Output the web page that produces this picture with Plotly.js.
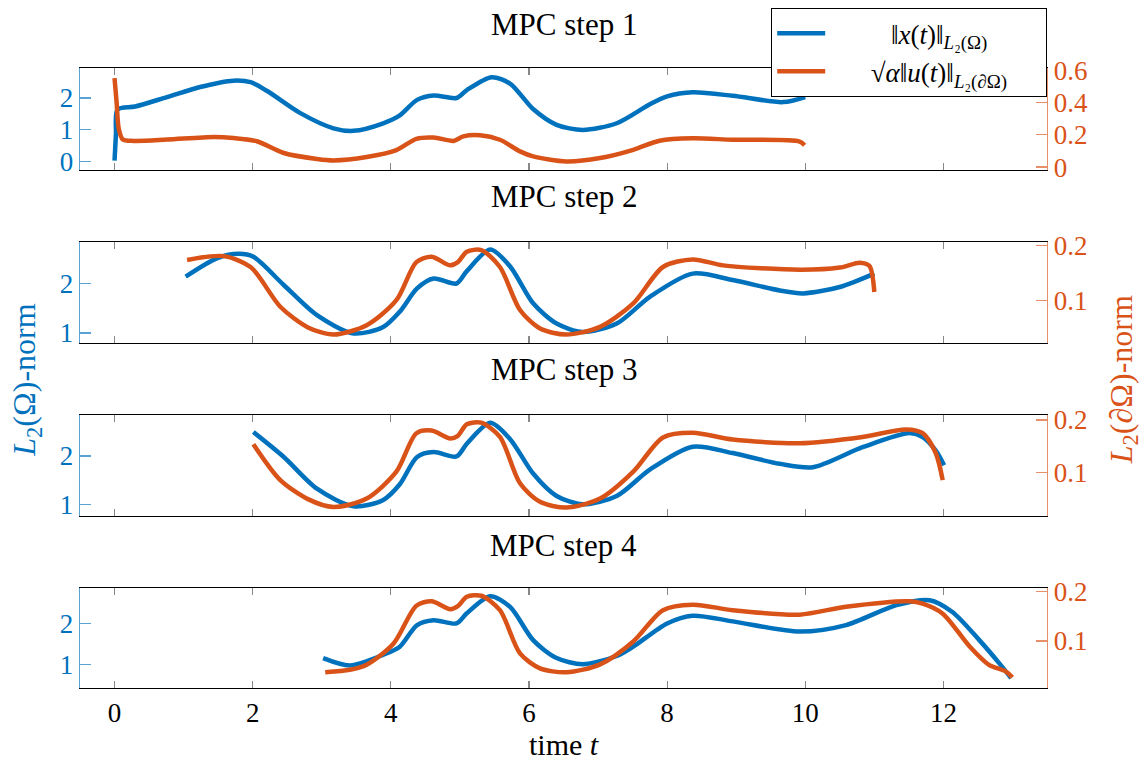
<!DOCTYPE html>
<html>
<head>
<meta charset="utf-8">
<script src="https://cdn.plot.ly/plotly-3.0.1.min.js"></script>
<style>
  html, body { margin: 0; padding: 0; background: #fff; }
  #chart { width: 1145px; height: 762px; }
</style>
</head>
<body>
<div id="chart"></div>
<script>
// MPC step 1: state norm and scaled control norm over t in [0, 10]
const t1x = [0, 0.02, 0.045, 0.3, 0.76, 1.24, 1.72, 1.97, 2.21, 2.69, 3.17, 3.46, 3.89, 4.13, 4.38, 4.62, 4.95, 5.1, 5.46, 5.73, 6.06, 6.4, 6.78, 7.27, 7.75, 8.0, 8.37, 8.95, 9.68, 10.0];
const x1  = [0.02, 0.85, 1.64, 1.73, 2.03, 2.35, 2.55, 2.5, 2.22, 1.52, 1.04, 0.96, 1.2, 1.45, 1.94, 2.08, 2.0, 2.25, 2.66, 2.45, 1.65, 1.15, 0.99, 1.2, 1.8, 2.05, 2.18, 2.07, 1.87, 2.03];
const t1u = [0, 0.03, 0.06, 0.12, 0.28, 0.76, 1.44, 1.72, 2.06, 2.45, 2.93, 3.17, 3.65, 4.08, 4.37, 4.62, 4.91, 5.05, 5.29, 5.58, 5.87, 6.06, 6.54, 7.03, 7.51, 7.89, 8.37, 8.95, 9.92, 9.99];
const u1  = [0.55, 0.4, 0.24, 0.17, 0.162, 0.17, 0.186, 0.18, 0.16, 0.087, 0.05, 0.041, 0.062, 0.105, 0.175, 0.183, 0.162, 0.19, 0.197, 0.169, 0.097, 0.066, 0.035, 0.056, 0.107, 0.163, 0.178, 0.169, 0.158, 0.135];

// MPC step 2: t in [1, 11]
const t2x = [1.03, 1.48, 1.8, 2.01, 2.45, 2.93, 3.46, 3.89, 4.13, 4.38, 4.62, 4.95, 5.1, 5.44, 5.73, 6.06, 6.4, 6.78, 7.27, 7.75, 8.37, 8.95, 9.63, 9.97, 10.5, 11.0];
const x2  = [2.14, 2.51, 2.6, 2.54, 1.97, 1.36, 0.99, 1.12, 1.43, 1.9, 2.1, 2.0, 2.25, 2.69, 2.34, 1.6, 1.19, 1.02, 1.19, 1.73, 2.2, 2.07, 1.86, 1.8, 1.93, 2.2];
const t2u = [1.05, 1.58, 1.97, 2.4, 2.8, 3.17, 3.65, 4.08, 4.37, 4.59, 4.86, 4.97, 5.1, 5.31, 5.58, 5.87, 6.16, 6.54, 7.03, 7.51, 7.94, 8.37, 8.81, 9.92, 10.5, 10.79, 10.93, 11.0];
const u2  = [0.174, 0.181, 0.161, 0.088, 0.05, 0.037, 0.054, 0.1, 0.17, 0.18, 0.164, 0.17, 0.189, 0.192, 0.161, 0.082, 0.048, 0.037, 0.051, 0.094, 0.161, 0.175, 0.164, 0.156, 0.16, 0.169, 0.163, 0.115];

// MPC step 3: t in [2, 12]
const t3x = [2.01, 2.45, 2.93, 3.46, 3.89, 4.13, 4.38, 4.62, 4.95, 5.1, 5.44, 5.73, 6.06, 6.4, 6.78, 7.27, 7.75, 8.37, 8.95, 9.63, 10.11, 10.83, 11.51, 11.7, 11.89, 12.01];
const x3  = [2.49, 1.98, 1.33, 0.97, 1.1, 1.42, 1.98, 2.08, 1.99, 2.25, 2.68, 2.34, 1.64, 1.18, 1.01, 1.18, 1.72, 2.19, 2.06, 1.84, 1.77, 2.18, 2.47, 2.39, 2.11, 1.81];
const t3u = [2.01, 2.4, 2.8, 3.17, 3.65, 4.08, 4.37, 4.59, 4.86, 4.97, 5.1, 5.31, 5.58, 5.87, 6.16, 6.54, 7.03, 7.51, 7.94, 8.37, 8.95, 9.92, 10.83, 11.46, 11.7, 11.89, 11.99];
const u3  = [0.154, 0.086, 0.05, 0.035, 0.051, 0.102, 0.175, 0.18, 0.165, 0.17, 0.192, 0.195, 0.168, 0.08, 0.045, 0.034, 0.051, 0.102, 0.167, 0.176, 0.163, 0.156, 0.168, 0.182, 0.175, 0.137, 0.086];

// MPC step 4: t in [3, 13]
const t4x = [3.02, 3.41, 3.89, 4.13, 4.38, 4.62, 4.95, 5.1, 5.44, 5.73, 6.06, 6.4, 6.78, 7.27, 7.51, 8.0, 8.37, 8.95, 9.92, 10.59, 11.32, 11.8, 12.13, 12.52, 12.81, 12.98];
const x4  = [1.15, 0.97, 1.23, 1.43, 1.96, 2.08, 2.0, 2.25, 2.67, 2.4, 1.59, 1.15, 1.0, 1.2, 1.43, 2.0, 2.19, 2.05, 1.8, 1.96, 2.45, 2.57, 2.28, 1.59, 1.02, 0.66];
const t4u = [3.05, 3.41, 3.65, 4.04, 4.37, 4.59, 4.86, 4.97, 5.1, 5.31, 5.58, 5.87, 6.16, 6.54, 7.03, 7.51, 7.94, 8.37, 8.95, 9.92, 10.59, 11.51, 11.7, 11.99, 12.38, 12.66, 12.9, 13.0];
const u4  = [0.037, 0.042, 0.052, 0.095, 0.171, 0.18, 0.164, 0.17, 0.189, 0.191, 0.162, 0.075, 0.045, 0.037, 0.053, 0.099, 0.162, 0.173, 0.162, 0.153, 0.169, 0.18, 0.175, 0.155, 0.089, 0.052, 0.039, 0.027];

// Axis ticks and panel titles
const xTicks = [0, 2, 4, 6, 8, 10, 12];
const leftTicks1 = [0, 1, 2];
const rightTicks1 = [0, 0.2, 0.4, 0.6];
const rightTickText1 = ['0', '0.2', '0.4', '0.6'];
const leftTicks = [1, 2];
const rightTicks = [0.1, 0.2];
const rightTickText = ['0.1', '0.2'];
const panelTitles = ['MPC step 1', 'MPC step 2', 'MPC step 3', 'MPC step 4'];

// legend labels, padded with no-break spaces so they sit centred in the box
const pad = k => '\u00A0'.repeat(k);
const stateName = pad(9) + '‖<i>x</i>(<i>t</i>)‖<sub><i>L</i>₂(Ω)</sub>';
const controlName = pad(6) + '√<i>α</i>‖<i>u</i>(<i>t</i>)‖<sub><i>L</i>₂(∂Ω)</sub>' + pad(5);

const BLUE = '#0072BD';
const ORANGE = '#D95319';
const BLUE_AX = 'rgba(0,114,189,0.65)';
const ORANGE_AX = 'rgba(217,83,25,0.65)';
const FONT = '"Liberation Serif", "DejaVu Serif", serif';

const panels = [
  { tx: t1x, x: x1, tu: t1u, u: u1, dom: [0.8355, 1.0], lr: [-0.28, 2.95], rr: [-0.018, 0.613],
    lt: leftTicks1, rt: rightTicks1, rtt: rightTickText1 },
  { tx: t2x, x: x2, tu: t2u, u: u2, dom: [0.5565, 0.7194], lr: [0.797, 2.84], rr: [0.0214, 0.207],
    lt: leftTicks, rt: rightTicks, rtt: rightTickText },
  { tx: t3x, x: x3, tu: t3u, u: u3, dom: [0.2774, 0.4403], lr: [0.77, 2.84], rr: [0.018, 0.2095],
    lt: leftTicks, rt: rightTicks, rtt: rightTickText },
  { tx: t4x, x: x4, tu: t4u, u: u4, dom: [0.0, 0.1613], lr: [0.415, 2.87], rr: [0.0054, 0.2066],
    lt: leftTicks, rt: rightTicks, rtt: rightTickText }
];
// panel title centres (paper fraction)
const titleY = [1.0694, 0.792, 0.513, 0.2306];

const data = [];
const layout = {
  width: 1145, height: 762,
  margin: { l: 80, r: 98, t: 68, b: 74, autoexpand: false },
  paper_bgcolor: '#fff', plot_bgcolor: '#fff',
  font: { family: FONT, size: 27, color: '#000' },
  showlegend: true,
  legend: {
    x: 1.0, xanchor: 'right', y: 1.0968, yanchor: 'top',
    bgcolor: '#fff', bordercolor: '#000', borderwidth: 1.2,
    font: { family: FONT, size: 27, color: '#000' },
    itemwidth: 48,
    tracegroupgap: 0
  },
  annotations: [],
  shapes: []
};

panels.forEach((p, i) => {
  const n = i + 1;
  const xa = n === 1 ? 'x' : 'x' + n;
  const yl = 2 * i + 1 === 1 ? 'y' : 'y' + (2 * i + 1);
  const yr = 'y' + (2 * i + 2);
  const xKey = n === 1 ? 'xaxis' : 'xaxis' + n;
  const ylKey = 2 * i + 1 === 1 ? 'yaxis' : 'yaxis' + (2 * i + 1);
  const yrKey = 'yaxis' + (2 * i + 2);

  data.push({
    type: 'scatter', mode: 'lines', x: p.tx, y: p.x, xaxis: xa, yaxis: yl,
    name: stateName, showlegend: n === 1, legendrank: 1,
    line: { color: BLUE, width: 4.5, shape: 'spline', smoothing: 0.8 }
  });
  data.push({
    type: 'scatter', mode: 'lines', x: p.tu, y: p.u, xaxis: xa, yaxis: yr,
    name: controlName, showlegend: n === 1, legendrank: 2,
    line: { color: ORANGE, width: 4.5, shape: 'spline', smoothing: 0.8 }
  });

  layout[xKey] = {
    domain: [0, 1], anchor: yl, range: [-0.5, 13.5],
    tickvals: xTicks, ticktext: xTicks.map(String),
    ticks: 'inside', ticklen: 7, tickwidth: 1.2, tickcolor: '#888',
    showline: true, linecolor: '#000', linewidth: 1.4, mirror: 'ticks',
    showgrid: false, zeroline: false,
    showticklabels: n === 4,
    tickfont: { family: FONT, size: 27, color: '#000' }
  };
  if (n !== 1) layout[xKey].matches = 'x';

  layout[ylKey] = {
    domain: p.dom, anchor: xa, side: 'left', range: p.lr,
    tickvals: p.lt, ticktext: p.lt.map(String),
    ticks: 'inside', ticklen: 11, tickwidth: 1.2, tickcolor: BLUE_AX,
    showline: true, linecolor: BLUE_AX, linewidth: 1.4,
    showgrid: false, zeroline: false,
    tickfont: { family: FONT, size: 27, color: BLUE }
  };
  layout[yrKey] = {
    domain: p.dom, anchor: xa, side: 'right', overlaying: yl, range: p.rr,
    tickvals: p.rt, ticktext: p.rtt,
    ticks: 'inside', ticklen: 11, tickwidth: 1.2, tickcolor: ORANGE_AX,
    showline: true, linecolor: ORANGE_AX, linewidth: 1.4,
    showgrid: false, zeroline: false,
    tickfont: { family: FONT, size: 27, color: ORANGE }
  };

  layout.annotations.push({
    text: panelTitles[i], xref: 'paper', yref: 'paper', x: 0.5, y: titleY[i],
    xanchor: 'center', yanchor: 'middle', showarrow: false,
    font: { family: FONT, size: 31, color: '#000' }
  });
});

// Shared axis labels
layout.annotations.push({
  text: '<i>L</i><sub>2</sub>(Ω)-norm', xref: 'paper', yref: 'paper',
  x: -0.055, y: 0.497, xanchor: 'center', yanchor: 'middle', textangle: -90,
  showarrow: false, font: { family: FONT, size: 32, color: BLUE }
});
layout.annotations.push({
  text: '<i>L</i><sub>2</sub>(∂Ω)-norm', xref: 'paper', yref: 'paper',
  x: 1.079, y: 0.497, xanchor: 'center', yanchor: 'middle', textangle: -90,
  showarrow: false, font: { family: FONT, size: 32, color: ORANGE }
});
layout.annotations.push({
  text: 'time <i>t</i>', xref: 'paper', yref: 'paper',
  x: 0.5, y: -0.0919, xanchor: 'center', yanchor: 'middle',
  showarrow: false, font: { family: FONT, size: 30, color: '#000' }
});

Plotly.newPlot('chart', data, layout, { staticPlot: true, displayModeBar: false });
</script>
</body>
</html>
